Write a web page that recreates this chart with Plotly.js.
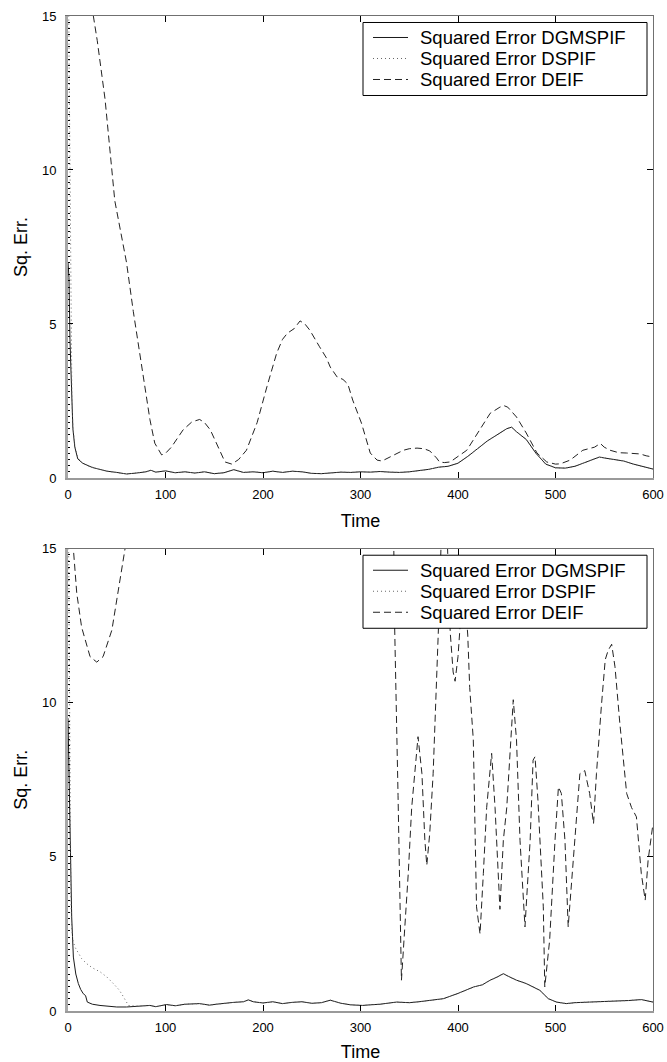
<!DOCTYPE html>
<html><head><meta charset="utf-8">
<script src="https://cdn.plot.ly/plotly-3.0.1.min.js"></script>
<style>html,body{margin:0;padding:0;background:#fff}#chart{width:667px;height:1062px}</style>
</head><body><div id="chart"></div>
<script>
// ---- Top panel data ----
const topSolidT = [0,1,2,3,4,5,7,10,15,20,25,30,40,50,60,70,80,85,90,100,110,120,130,140,150,160,170,180,190,200,210,220,230,240,250,260,270,280,290,300,310,320,330,340,350,360,370,380,390,400,410,420,430,440,450,455,460,470,480,490,500,510,520,530,540,545,550,560,570,580,590,600];
const topSolidV = [7.0,6.5,4.5,3.2,2.5,1.6,1.0,0.62,0.48,0.4,0.34,0.3,0.22,0.18,0.13,0.16,0.2,0.25,0.19,0.23,0.17,0.2,0.16,0.2,0.14,0.17,0.27,0.18,0.2,0.17,0.22,0.18,0.22,0.2,0.15,0.14,0.17,0.19,0.18,0.2,0.19,0.21,0.19,0.18,0.2,0.23,0.28,0.35,0.38,0.48,0.7,0.95,1.2,1.4,1.6,1.65,1.5,1.25,0.8,0.45,0.33,0.32,0.38,0.5,0.62,0.68,0.65,0.6,0.55,0.45,0.38,0.29];
const topDottedT = [0,1,2,3,4,5,7,10,15,20,25,30,40,50,60,70,80,85,90,100,110,120,130,140,150,160,170,180,190,200,210,220,230,240,250,260,270,280,290,300,310,320,330,340,350,360,370,380,390,400,410,420,430,440,450,455,460,470,480,490,500,510,520,530,540,545,550,560,570,580,590,600];
const topDottedV = [18,14,8,4.2,2.6,1.7,1.05,0.66,0.48,0.4,0.34,0.3,0.22,0.18,0.13,0.16,0.2,0.25,0.19,0.23,0.17,0.2,0.16,0.2,0.14,0.17,0.27,0.18,0.2,0.17,0.22,0.18,0.22,0.2,0.15,0.14,0.17,0.19,0.18,0.2,0.19,0.21,0.19,0.18,0.2,0.23,0.28,0.35,0.38,0.48,0.7,0.95,1.2,1.4,1.6,1.65,1.5,1.25,0.8,0.45,0.33,0.32,0.38,0.5,0.62,0.68,0.65,0.6,0.55,0.45,0.38,0.29];
const topDashT = [0,10,20,26,30,38,48,56,60,67,77,84,89,96,100,106,118,127,135,140,146,154,161,168,175,183,194,204,214,220,225,232,238,243,248,258,265,269,276,282,287,292,301,310,317,322,330,344,350,358,365,371,378,381,386,392,400,409,415,422,433,443,447,451,460,470,481,491,500,505,515,528,540,546,550,556,565,573,587,593,600];
const topDashV = [40,25,17.5,15,14.2,12.3,9.0,7.7,7.0,5.4,3.4,1.9,1.13,0.75,0.8,1.0,1.56,1.82,1.9,1.8,1.56,1.0,0.52,0.45,0.6,0.9,1.8,2.96,4.05,4.5,4.7,4.85,5.1,5.0,4.8,4.26,3.9,3.6,3.28,3.2,3.05,2.53,1.78,0.81,0.58,0.55,0.68,0.9,0.95,0.97,0.95,0.88,0.65,0.52,0.5,0.52,0.7,0.9,1.2,1.56,2.1,2.3,2.35,2.3,1.98,1.46,0.81,0.52,0.45,0.46,0.58,0.9,1.0,1.12,1.0,0.9,0.82,0.81,0.78,0.72,0.68];

// ---- Bottom panel data ----
const botSolidT = [0,1,2,2.7,3.8,5.5,8,10.6,13,15.7,18,19.8,25,32.8,40,50,60,70,84,90,101,110,120,135,145,152,160,170,180,185,190,200,210,220,230,240,250,260,269,280,290,302,310,320,337,350,360,371,385,400,416,425,433,440,446.5,452,460,470,484,492.6,501,511,520,535,550,563,575,588,600];
const botSolidV = [9.5,8.0,6.6,5.0,3.05,1.75,1.2,0.89,0.7,0.56,0.5,0.29,0.22,0.18,0.15,0.13,0.13,0.16,0.18,0.14,0.21,0.17,0.22,0.24,0.19,0.22,0.25,0.28,0.3,0.36,0.3,0.26,0.3,0.24,0.28,0.3,0.25,0.27,0.35,0.25,0.2,0.18,0.2,0.22,0.29,0.27,0.3,0.35,0.4,0.57,0.78,0.85,1.0,1.1,1.21,1.12,1.0,0.89,0.67,0.4,0.29,0.24,0.27,0.29,0.3,0.31,0.34,0.37,0.29];
const botDottedT = [0,1,2,3,3.8,5,7,10,14,19,25,33,40,46.5,52,55,58,62,70,84,90,101,110,120,135,145,152,160,170,180,185,190,200,210,220,230,240,250,260,269,280,290,302,310,320,337,350,360,371,385,400,416,425,433,440,446.5,452,460,470,484,492.6,501,511,520,535,550,563,575,588,600];
const botDottedV = [18,13,7,3.6,2.7,2.3,2.08,1.9,1.7,1.54,1.4,1.27,1.1,0.89,0.7,0.56,0.38,0.18,0.16,0.18,0.14,0.21,0.17,0.22,0.24,0.19,0.22,0.25,0.28,0.3,0.36,0.3,0.26,0.3,0.24,0.28,0.3,0.25,0.27,0.35,0.25,0.2,0.18,0.2,0.22,0.29,0.27,0.3,0.35,0.4,0.57,0.78,0.85,1.0,1.1,1.21,1.12,1.0,0.89,0.67,0.4,0.29,0.24,0.27,0.29,0.3,0.31,0.34,0.37,0.29];
const botDashT = [0,3,5.5,9,14,22.6,29.5,36,45,51.3,58.5,62,70,100,200,300,330,334,335,338.5,342,345,349,352.5,356,359,363,366,368,371,374.5,378,380,383,386,389,392,395,397,400,402,405,407,410,412,415.7,419,422.6,426,429.4,434.5,438,443,446.5,450,455,456.7,460,463.6,468.7,474,477,479,482,484,487.5,489,494,499.5,503,506,509.7,513,520,525,530,535,539,542,547,551,554,557.6,561,566,573,578,583,588,592,595,600];
const botDashV = [22,17,15,13.55,12.45,11.5,11.32,11.5,12.36,13.55,15,16.5,19,25,30,25,18,15.5,12.5,7.0,1.0,2.5,4.47,6.6,7.9,8.9,7.7,5.55,4.73,5.76,7.7,10.4,12.47,15.5,16.5,15.3,12.3,11.0,10.7,11.5,12.4,13.8,13.5,12.2,10.5,8.8,3.38,2.5,4.46,6.6,8.36,6.6,3.3,5.54,6.6,9.2,10.1,8.8,5.54,2.73,5.54,8.14,8.25,6.84,5.54,3.38,0.78,2.3,5.54,7.27,7.06,5.54,2.73,5.54,7.7,7.8,7.06,6.08,7.7,9.87,11.4,11.7,11.9,11.17,9.33,7.06,6.6,6.3,4.46,3.6,4.9,6.08];

const seriesNames = ['Squared Error DGMSPIF','Squared Error DSPIF','Squared Error DEIF'];
const xTicks = [0,100,200,300,400,500,600];
const yTicks = [0,5,10,15];

const FONT = 'Liberation Sans, Arial, Helvetica, sans-serif';
const solidLine = {color:'#1a1a1a', width:1};
const dotLine = {color:'#666', width:1, dash:'1px,3px'};
const dashLine = {color:'#222', width:1, dash:'7px,4px'};
const seriesLines = [solidLine, dotLine, dashLine];

function mk(t, v, name, line, xa, ya) {
  return {x:t, y:v, name:name, mode:'lines', line:line, xaxis:xa, yaxis:ya, showlegend:false, hoverinfo:'skip'};
}
const data = [
  mk(topSolidT, topSolidV, seriesNames[0], solidLine, 'x', 'y'),
  mk(topDottedT, topDottedV, seriesNames[1], dotLine, 'x', 'y'),
  mk(topDashT, topDashV, seriesNames[2], dashLine, 'x', 'y'),
  mk(botSolidT, botSolidV, seriesNames[0], solidLine, 'x2', 'y2'),
  mk(botDottedT, botDottedV, seriesNames[1], dotLine, 'x2', 'y2'),
  mk(botDashT, botDashV, seriesNames[2], dashLine, 'x2', 'y2'),
  {x:[], y:[], xaxis:'x3', yaxis:'y3', showlegend:false, mode:'lines', hoverinfo:'skip'},
  {x:[], y:[], xaxis:'x4', yaxis:'y4', showlegend:false, mode:'lines', hoverinfo:'skip'}
];

function xMain(anchor) {
  return {anchor:anchor, domain:[0,1], range:[0,600], tickvals:xTicks, ticktext:xTicks.map(String),
    ticks:'inside', ticklen:6, tickcolor:'#000', tickwidth:1,
    showline:true, linecolor:'#9a9a9a', linewidth:2, showgrid:false, zeroline:false,
    tickfont:{family:FONT, size:13, color:'#000'}, ticklabelstandoff:3,
    title:{text:'Time', font:{family:FONT, size:18, color:'#000'}, standoff:14}};
}
function yMain(anchor, dom) {
  return {anchor:anchor, domain:dom, range:[0,15], tickvals:yTicks, ticktext:yTicks.map(String),
    ticks:'inside', ticklen:5, tickcolor:'#000', tickwidth:1,
    minor:{dtick:0.2, ticks:'inside', ticklen:2, tickcolor:'#000', tickwidth:1, showgrid:false},
    showline:true, linecolor:'#a8a8a8', linewidth:3, showgrid:false, zeroline:false,
    tickfont:{family:FONT, size:13, color:'#000'}, ticklabelstandoff:6,
    title:{text:'Sq. Err.', font:{family:FONT, size:18, color:'#000'}, standoff:10}};
}
function xTop(over, anchor) {
  return {overlaying:over, side:'top', anchor:anchor, range:[0,600], tickvals:xTicks,
    ticks:'inside', ticklen:6, tickcolor:'#000', showticklabels:false,
    showline:true, linecolor:'#707070', linewidth:1, showgrid:false, zeroline:false};
}
function yRight(over, anchor) {
  return {overlaying:over, side:'right', anchor:anchor, range:[0,15], tickvals:yTicks,
    ticks:'inside', ticklen:6, tickcolor:'#000', showticklabels:false,
    showline:true, linecolor:'#707070', linewidth:1, showgrid:false, zeroline:false};
}

// ---- hand-built legend boxes (Plotly legend rows are too tall for this figure) ----
const PLOT_W = 585, PANEL_H = 462;
const LEG = {left:295, right:579, top:6.5, bottom:79.5, lineX0:305, lineX1:340, textX:351, rows:[21.5, 42.5, 63.5], fontSize:18.5};
const shapes = [], annotations = [];
function addLegend(xr, yr) {
  const fx = p => p / PLOT_W;
  const fy = p => 1 - p / PANEL_H;
  shapes.push({type:'rect', xref:xr, yref:yr, x0:fx(LEG.left), x1:fx(LEG.right), y0:fy(LEG.bottom), y1:fy(LEG.top),
    line:{color:'#000', width:1}, fillcolor:'#fff', layer:'above'});
  seriesNames.forEach((nm, i) => {
    shapes.push({type:'line', xref:xr, yref:yr, x0:fx(LEG.lineX0), x1:fx(LEG.lineX1), y0:fy(LEG.rows[i]), y1:fy(LEG.rows[i]),
      line:seriesLines[i], layer:'above'});
    annotations.push({xref:xr, yref:yr, x:fx(LEG.textX), y:fy(LEG.rows[i]), xanchor:'left', yanchor:'middle',
      text:nm, showarrow:false, font:{family:FONT, size:LEG.fontSize, color:'#000'}, borderpad:0});
  });
}
addLegend('x domain', 'y domain');
addLegend('x2 domain', 'y2 domain');

const layout = {
  width:667, height:1062, paper_bgcolor:'#fff', plot_bgcolor:'#fff',
  margin:{l:68, r:14, t:16, b:51},
  showlegend:false,
  xaxis: xMain('y'),
  yaxis: yMain('x', [0.5357, 1]),
  xaxis2: xMain('y2'),
  yaxis2: yMain('x2', [0, 0.4646]),
  xaxis3: xTop('x', 'y'),
  yaxis3: yRight('y', 'x'),
  xaxis4: xTop('x2', 'y2'),
  yaxis4: yRight('y2', 'x2'),
  shapes: shapes,
  annotations: annotations
};

Plotly.newPlot('chart', data, layout, {staticPlot:true, displayModeBar:false});
</script>
</body></html>
